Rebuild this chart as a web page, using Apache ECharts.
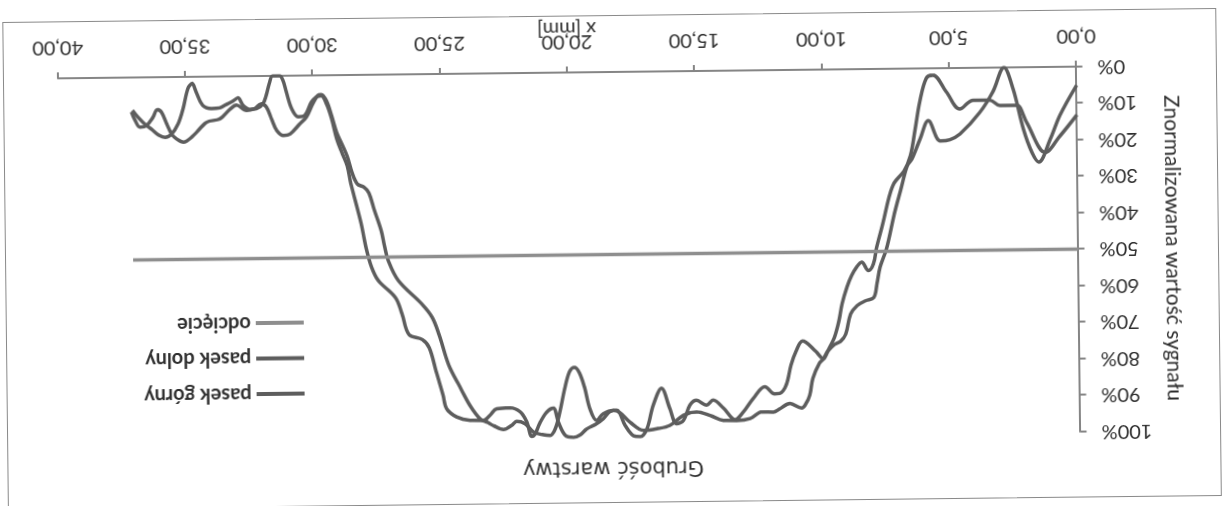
<!DOCTYPE html>
<html>
<head>
<meta charset="utf-8">
<script src="https://cdn.jsdelivr.net/npm/echarts@6/dist/echarts.min.js"></script>
<style>
  html, body { margin: 0; padding: 0; background: #fff; overflow: hidden; width: 1222px; height: 506px; }
  /* the printed sheet is mounted upside down and slightly skewed */
  #page { position: absolute; left: 0; top: 0; width: 1222px; height: 506px;
          transform: rotate(179.34deg); transform-origin: 611px 253px; background: #fff; }
  #frame { position: absolute; left: 3px; top: 3px; width: 1212px; height: 486px; border: 1.5px solid #8a8a8a; }
  #chart { position: absolute; left: 0; top: 0; width: 1222px; height: 506px; }
</style>
</head>
<body>
<div id="page"><div id="frame"></div><div id="chart"></div></div>
<script>
// x position [mm], normalised signal [%]
const pasekGorny = [
  [0,5.1],[0.67,13.3],[1.06,19.8],[1.52,26.0],[1.78,23.4],[2.11,16.9],[2.5,5.8],[2.85,0],[3.29,6.6],[3.81,12.2],
  [4.6,18.1],[5.0,19.6],[5.38,19.9],[5.84,14.3],[6.17,19.3],[6.5,24.8],[6.69,26.7],[6.95,33.1],[7.21,39.6],[7.54,49.3],
  [7.8,54.3],[7.93,58.9],[8.06,62.6],[8.39,63.5],[8.72,64.8],[8.98,67.1],[9.18,72.6],[9.38,74.5],[9.63,75.4],[9.9,77.2],
  [10.09,79.1],[10.36,77.2],[10.88,74.3],[11.14,77.1],[11.34,80.8],[11.54,86.3],[11.8,88.6],[12.0,88.7],[12.38,86.7],[12.84,89.9],
  [13.24,93.6],[13.56,95.6],[14.02,92.4],[14.41,90.2],[14.68,91.6],[15.07,90.2],[15.33,91.5],[15.59,95.7],[15.86,96.6],[16.12,92.4],
  [16.44,86.8],[16.77,91.4],[17.03,97.9],[17.29,100],[17.56,99.7],[17.88,96.9],[18.21,92.7],[18.47,93.0],[18.74,95.0],[19.0,96.3],
  [19.39,97.7],[19.65,99.3],[19.91,100],[20.24,99.4],[20.5,95.8],[20.7,91.9],[20.96,93.0],[21.22,95.8],[21.42,98.9],[21.55,99.6],
  [21.75,95.5],[22.0,92.8],[22.4,91.7],[22.92,91.9],[23.19,93.7],[23.45,95.1],[23.97,95.0],[24.5,94.0],[24.89,91.7],[25.02,88.0],
  [25.28,81.5],[25.54,75.0],[25.81,72.7],[26.33,71.3],[26.59,65.7],[26.85,61.1],[27.51,56.4],[27.77,52.7],[27.97,47.6],[28.16,40.7],
  [28.42,33.3],[28.55,29.6],[28.68,24.9],[28.88,21.3],[29.08,17.5],[29.27,12.0],[29.47,7.8],[29.67,5.6],[29.86,5.9],[30.06,7.3],
  [30.32,10.9],[30.58,11.3],[30.84,9.0],[31.04,4.4],[31.17,1.2],[31.3,0],[31.57,0],[31.7,2.0],[31.83,5.3],[31.96,7.6],
  [32.22,8.9],[32.48,9.1],[32.74,8.0],[32.94,5.9],[33.14,6.8],[33.4,7.7],[33.66,8.6],[33.99,8.8],[34.32,7.9],[34.58,4.2],
  [34.73,1.8],[34.9,3.2],[35.1,8.7],[35.3,12.8],[35.56,15.6],[35.82,16.5],[36.08,15.8],[36.34,14.3],[36.61,12.8],[36.87,10.9],
  [37.09,9.0]
];

const pasekDolny = [
  [0,13.2],[0.67,18.9],[1.26,23.4],[1.98,15.1],[2.37,10.4],[3.02,10.4],[3.42,8.9],[4.07,8.9],[4.6,11.2],[5.12,6.5],
  [5.64,1.9],[5.9,2.7],[6.17,9.2],[6.36,16.6],[6.56,23.9],[6.82,28.1],[7.21,31.3],[7.41,35.0],[7.67,42.3],[7.93,49.0],
  [8.06,53.4],[8.26,55.2],[8.52,52.9],[8.72,54.2],[8.92,56.5],[9.11,59.7],[9.31,64.3],[9.44,68.9],[9.63,73.5],[9.83,76.3],
  [10.03,79.1],[10.22,80.4],[10.49,84.6],[10.62,89.2],[10.81,91.9],[10.94,92.7],[11.4,91.4],[11.8,92.8],[12.06,93.7],[12.5,93.6],
  [12.97,95.4],[13.5,95.9],[14.02,95.8],[14.54,94.4],[15.07,93.4],[15.59,94.3],[16.12,97.0],[16.64,97.9],[17.16,98.3],[17.69,96.0],
  [18.08,93.4],[18.34,92.7],[18.74,93.6],[19.0,95.4],[19.26,92.2],[19.45,86.6],[19.65,82.4],[19.85,80.8],[20.04,81.9],[20.24,86.6],
  [20.44,93.0],[20.63,97.6],[20.83,99.4],[21.09,99.2],[21.48,98.4],[21.81,96.1],[22.14,95.4],[22.34,96.5],[22.66,97.6],[23.06,96.5],
  [23.32,95.5],[23.58,94.6],[23.97,90.9],[24.36,85.7],[24.78,79.8],[25.15,71.4],[25.41,66.7],[25.81,63.0],[26.72,56.5],[27.11,51.0],
  [27.25,47.0],[27.38,42.6],[27.64,37.0],[27.84,32.4],[28.03,30.8],[28.29,29.9],[28.49,26.8],[28.68,22.2],[28.88,18.9],[29.08,15.7],
  [29.27,11.1],[29.47,6.9],[29.67,5.3],[29.8,5.5],[30.0,7.7],[30.26,11.4],[30.52,13.2],[30.91,16.0],[31.17,16.4],[31.43,15.0],
  [31.63,11.8],[31.83,8.5],[32.02,7.6],[32.29,8.9],[32.61,9.4],[33.0,7.9],[33.27,9.1],[33.66,11.6],[34.18,12.5],[34.71,16.1],
  [35.1,17.9],[35.36,17.0],[35.56,15.6],[35.75,12.8],[35.95,9.6],[36.12,8.9],[36.28,10.9],[36.54,13.2],[36.8,13.6],[37.0,11.6],
  [37.13,9.4]
];

// threshold level across the scanned range
const odciecie = [[0, 50], [37.13, 50]];

const seriesNames = ['pasek górny', 'pasek dolny', 'odcięcie'];
const chartTitle = 'Grubość warstwy';
const xAxisName = 'x [mm]';
const yAxisName = 'Znormalizowana wartość sygnału';

const axisGrey = '#858585';
const textColor = '#2f2f2f';
const labelFont = 'Lato, "Open Sans", sans-serif';

const chart = echarts.init(document.getElementById('chart'), null, { renderer: 'canvas' });

chart.setOption({
  animation: false,
  backgroundColor: 'transparent',
  title: {
    text: chartTitle,
    left: 'center',
    top: 28,
    padding: 0,
    textStyle: { fontFamily: '"DejaVu Sans", sans-serif', fontWeight: 'normal', fontSize: 21, color: '#333' }
  },
  legend: {
    data: seriesNames,
    orient: 'vertical',
    left: 914,
    top: 101,
    itemWidth: 48,
    itemHeight: 4,
    itemGap: 15.5,
    icon: 'rect',
    textStyle: { fontFamily: labelFont, fontWeight: 'bold', fontSize: 20, color: textColor }
  },
  grid: { left: 143.5, right: 60, top: 69, bottom: 72 },
  xAxis: {
    type: 'value',
    min: 0, max: 40, interval: 5,
    name: xAxisName,
    nameLocation: 'middle',
    nameGap: 34,
    nameMoveOverlap: false,
    nameTextStyle: { fontFamily: labelFont, fontSize: 20, color: textColor },
    axisLine: { show: true, onZero: false, lineStyle: { color: axisGrey, width: 2 } },
    axisTick: { show: true, length: 6, lineStyle: { color: axisGrey, width: 2 } },
    axisLabel: {
      margin: 21, fontFamily: labelFont, fontSize: 20, color: textColor,
      formatter: v => v.toFixed(2).replace('.', ',')
    },
    splitLine: { show: false }
  },
  yAxis: {
    type: 'value',
    min: 0, max: 100, interval: 10,
    name: yAxisName,
    nameLocation: 'middle',
    nameRotate: 90,
    nameGap: 84,
    nameMoveOverlap: false,
    nameTextStyle: { fontFamily: labelFont, fontSize: 21, color: textColor },
    axisLine: { show: true, lineStyle: { color: axisGrey, width: 2 } },
    axisTick: { show: true, length: 6, lineStyle: { color: axisGrey, width: 2 } },
    axisLabel: { margin: 21, fontFamily: labelFont, fontSize: 20, color: textColor, formatter: '{value}%' },
    splitLine: { show: false }
  },
  series: [
    {
      name: seriesNames[0], type: 'line', data: pasekGorny, smooth: 0.35,
      showSymbol: false, symbol: 'none',
      lineStyle: { color: '#5d5d5d', width: 3.5 }, itemStyle: { color: '#5d5d5d' }
    },
    {
      name: seriesNames[1], type: 'line', data: pasekDolny, smooth: 0.35,
      showSymbol: false, symbol: 'none',
      lineStyle: { color: '#5d5d5d', width: 3.5 }, itemStyle: { color: '#5d5d5d' }
    },
    {
      name: seriesNames[2], type: 'line', data: odciecie,
      showSymbol: false, symbol: 'none',
      lineStyle: { color: '#8e8e8e', width: 3.5 }, itemStyle: { color: '#8e8e8e' }
    }
  ]
});
</script>
</body>
</html>
